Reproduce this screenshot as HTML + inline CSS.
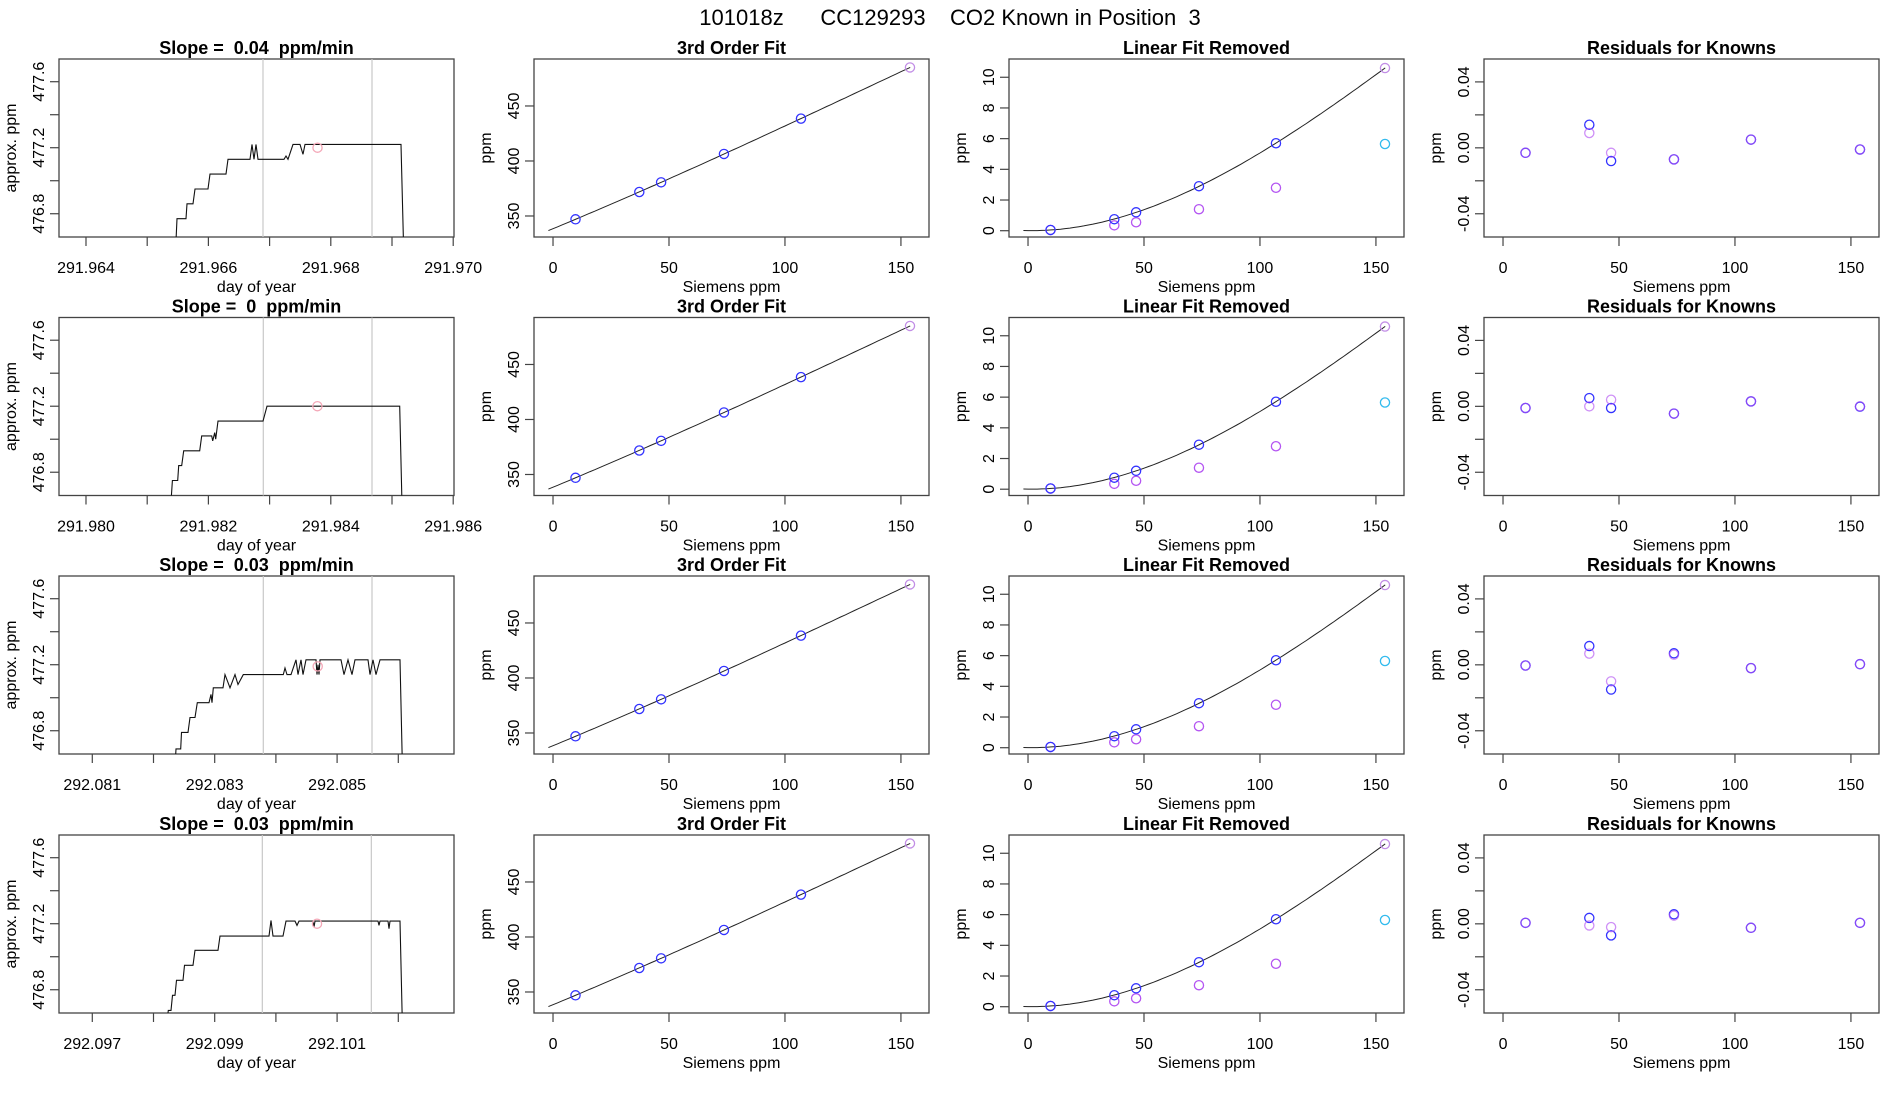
<!DOCTYPE html>
<html><head><meta charset="utf-8">
<style>
html,body{margin:0;padding:0;background:#fff;}
svg{display:block;font-family:"Liberation Sans",Arial,sans-serif;}
text{white-space:pre;}
</style></head>
<body>
<svg id="chart" width="1900" height="1100" viewBox="0 0 1900 1100" xmlns="http://www.w3.org/2000/svg">
<rect width="1900" height="1100" fill="#fff"/>
<text x="950" y="25" text-anchor="middle" font-size="22" xml:space="preserve">101018z      CC129293    CO2 Known in Position  3</text>
</svg>
<script>
// ---------- data ----------
const rowSlopes = ["0.04", "0", "0.03", "0.03"];
const rowTickStart = [291.964, 291.980, 292.081, 292.097];
const rowXmin = [291.963559, 291.979559, 292.080456, 292.096456];
const rowGrayLines = [[291.966892, 291.968673],[291.982897, 291.984673],[292.083794, 292.085570],[292.099778, 292.101559]];
const rowCircle = [[291.967783, 477.20],[291.983781, 477.20],[292.084683, 477.19],[292.100672, 477.20]];

const doy1 = [291.96356,291.965454,291.965487,291.965634,291.965650,291.965748,291.965781,291.965993,291.966026,291.966288,291.966320,291.966680,291.966712,291.966745,291.966778,291.966810,291.967235,291.967268,291.967301,291.967382,291.967497,291.967546,291.967578,291.969147,291.969196];
const ppm1 = [476.5,476.5,476.77,476.77,476.86,476.86,476.95,476.95,477.04,477.04,477.13,477.13,477.22,477.13,477.22,477.13,477.13,477.15,477.13,477.22,477.22,477.16,477.22,477.22,476.5];
const doy2 = [291.979554,291.981368,291.981412,291.981498,291.981515,291.981564,291.981596,291.981858,291.981891,291.982054,291.982070,291.982103,291.982119,291.982157,291.982892,291.982958,291.985126,291.985170];
const ppm2 = [476.5,476.5,476.75,476.75,476.84,476.84,476.93,476.93,477.02,477.02,476.99,477.04,477.0,477.11,477.11,477.20,477.20,476.5];
const doy3 = [292.080456,292.082340,292.082368,292.082444,292.082458,292.082564,292.082596,292.082678,292.082716,292.082907,292.082940,292.082956,292.082977,292.083136,292.083168,292.083250,292.083332,292.083381,292.083467,292.084121,292.084149,292.084181,292.084247,292.084328,292.084361,292.084410,292.084443,292.084492,292.084655,292.084672,292.084688,292.084704,292.084721,292.085064,292.085113,292.085178,292.085243,292.085292,292.085505,292.085538,292.085587,292.085636,292.085701,292.086028,292.086072];
const ppm3 = [476.5,476.5,476.69,476.69,476.79,476.79,476.88,476.88,476.97,476.97,477.02,476.97,477.06,477.06,477.14,477.06,477.14,477.08,477.14,477.14,477.18,477.14,477.14,477.23,477.14,477.23,477.14,477.23,477.23,477.14,477.2,477.14,477.23,477.23,477.14,477.23,477.14,477.23,477.23,477.14,477.23,477.14,477.23,477.23,476.5];
const doy4 = [292.096456,292.098188,292.098242,292.098286,292.098310,292.098351,292.098376,292.098482,292.098507,292.098645,292.098678,292.099054,292.099087,292.099887,292.099920,292.099953,292.100116,292.100165,292.100312,292.100345,292.100378,292.100606,292.100623,292.100639,292.101668,292.101685,292.101701,292.101832,292.101848,292.101864,292.102028,292.102072];
const ppm4 = [476.5,476.5,476.675,476.675,476.766,476.766,476.857,476.857,476.948,476.948,477.039,477.039,477.125,477.125,477.22,477.125,477.125,477.216,477.216,477.19,477.216,477.216,477.18,477.216,477.216,477.19,477.216,477.216,477.17,477.216,477.216,476.5];
const rowDoy = [doy1, doy2, doy3, doy4];
const rowPpm = [ppm1, ppm2, ppm3, ppm4];

const siemens = [9.7, 37.2, 46.6, 73.7, 106.9, 153.9];
const knownPpm = [347, 371.8, 380.6, 406.4, 438.5, 485];
const linRemBlue = [0.05, 0.75, 1.2, 2.9, 5.7, 10.6];
const linRemPurple = [0.05, 0.35, 0.55, 1.4, 2.8, 10.6];
const linRemCyan = [5.65];
const residBlue = [[-0.003,0.014,-0.008,-0.007,0.005,-0.001],[-0.001,0.005,-0.001,-0.0044,0.003,-0.0002],[-0.0004,0.0114,-0.015,0.007,-0.002,0.0004],[0.0006,0.0036,-0.007,0.0058,-0.0024,0.0006]];
const residPurple = [[-0.003,0.009,-0.003,-0.007,0.005,-0.001],[-0.001,0.000,0.004,-0.0044,0.003,0],[-0.0004,0.0068,-0.010,0.0062,-0.002,0.0004],[0.0006,-0.001,-0.002,0.005,-0.0024,0.0006]];

const ppmTicks = [476.8, 477.0, 477.2, 477.4, 477.6];
const ppmTickLabels = ["476.8", "", "477.2", "", "477.6"];
const siemensTicks = [0, 50, 100, 150];
const fitTicks = [350, 400, 450];
const linTicks = [0, 2, 4, 6, 8, 10];
const residTicks = [-0.04, -0.02, 0, 0.02, 0.04];
const residTickLabels = ["-0.04", "", "0.00", "", "0.04"];

// ---------- helpers ----------
const NS = "http://www.w3.org/2000/svg";
const svg = document.getElementById("chart");
function el(tag, attrs, parent, text) {
  const e = document.createElementNS(NS, tag);
  for (const k in attrs) e.setAttribute(k, attrs[k]);
  if (text !== undefined) e.textContent = text;
  (parent || svg).appendChild(e);
  return e;
}
function scale(d0, d1, r0, r1) { return v => r0 + (v - d0) / (d1 - d0) * (r1 - r0); }
function cubicFit(xs, ys) {
  const n = 4, A = [], b = [];
  for (let i = 0; i < n; i++) { A.push([0,0,0,0]); b.push(0); }
  xs.forEach((x, k) => {
    for (let i = 0; i < n; i++) { b[i] += ys[k] * Math.pow(x, i); for (let j = 0; j < n; j++) A[i][j] += Math.pow(x, i + j); }
  });
  for (let i = 0; i < n; i++) {
    let p = i; for (let r = i + 1; r < n; r++) if (Math.abs(A[r][i]) > Math.abs(A[p][i])) p = r;
    [A[i], A[p]] = [A[p], A[i]]; [b[i], b[p]] = [b[p], b[i]];
    for (let r = 0; r < n; r++) if (r !== i) { const f = A[r][i] / A[i][i]; for (let c = 0; c < n; c++) A[r][c] -= f * A[i][c]; b[r] -= f * b[i]; }
  }
  const c = b.map((v, i) => v / A[i][i]);
  return x => c[0] + c[1]*x + c[2]*x*x + c[3]*x*x*x;
}

const W = 395, H = 178;
const colLeft = [59, 534, 1009, 1484];
const rowTop = [59, 317.5, 576, 835];
const BLUE = "#3333ff", PURPLE = "#b455f2", CYAN = "#33bbee", LAV = "#c28ee6";

function frame(g, x0, y0, title, xlab, ylab, key) {
  const t = el("text", {x: x0 + W/2, y: y0 - 5, "text-anchor": "middle", "font-size": 18, "font-weight": "bold"}, g, title);
  t.setAttributeNS("http://www.w3.org/XML/1998/namespace", "xml:space", "preserve");
  
  
  const r = el("rect", {x: x0, y: y0, width: W, height: H, fill: "none", stroke: "#444", "stroke-width": 1.3}, g);
  
  
  const xl = el("text", {x: x0 + W/2, y: y0 + H + 55, "text-anchor": "middle", "font-size": 16}, g, xlab);
  
  
  const yl = el("text", {x: 0, y: 0, "text-anchor": "middle", "font-size": 16, transform: `translate(${x0 - 43},${y0 + H/2}) rotate(-90)`}, g, ylab);
  
  
}
function xAxis(g, x0, y0, ticks, labels, sx, key) {
  const ax = el("g", {}, g);
  
  
  ticks.forEach((v, i) => {
    const px = sx(v);
    el("line", {x1: px, x2: px, y1: y0 + H, y2: y0 + H + 9, stroke: "#444", "stroke-width": 1.2}, ax);
    if (labels[i]) {
      const t = el("text", {x: px, y: y0 + H + 36, "text-anchor": "middle", "font-size": 16}, ax, labels[i]);
      
      
    }
  });
}
function yAxis(g, x0, y0, ticks, labels, sy, key) {
  const ax = el("g", {}, g);
  
  
  ticks.forEach((v, i) => {
    const py = sy(v);
    el("line", {x1: x0 - 9, x2: x0, y1: py, y2: py, stroke: "#444", "stroke-width": 1.2}, ax);
    if (labels[i]) {
      const t = el("text", {x: 0, y: 0, "text-anchor": "middle", "font-size": 16, transform: `translate(${x0 - 15},${py}) rotate(-90)`}, ax, labels[i]);
      
      
    }
  });
}
function circle(g, cx, cy, color, name) {
  const c = el("circle", {cx: cx, cy: cy, r: 4.6, fill: "none", stroke: color, "stroke-width": 1.3}, g);
  
  
}

for (let r = 0; r < 4; r++) {
  const y0 = rowTop[r];
  // ---- column 1: time series ----
  {
    const x0 = colLeft[0];
    const key = `row${r+1}-slope`;
    const g = el("g", {}, svg);
    
    
    const xmin = rowXmin[r];
    const sx = scale(xmin, xmin + 0.006454, x0, x0 + W);
    const sy = scale(476.659, 477.7376, y0 + H, y0);
    frame(g, x0, y0, `Slope =  ${rowSlopes[r]}  ppm/min`, "day of year", "approx. ppm", key);
    const ticks = [], labels = [];
    for (let i = 0; i < 7; i++) {
      const v = rowTickStart[r] + i * 0.001;
      if (sx(v) > x0 + W + 1) break;
      ticks.push(v); labels.push(i % 2 === 0 ? v.toFixed(3) : "");
    }
    xAxis(g, x0, y0, ticks, labels, sx, key);
    yAxis(g, x0, y0, ppmTicks, ppmTickLabels, sy, key);
    rowGrayLines[r].forEach(v => {
      const l = el("line", {x1: sx(v), x2: sx(v), y1: y0, y2: y0 + H, stroke: "#c8c8c8", "stroke-width": 1.2}, g);
      
      
    });
    const cid = "clip" + r;
    const cp = el("clipPath", {id: cid}, g);
    el("rect", {x: x0, y: y0, width: W, height: H}, cp);
    const pts = rowDoy[r].map((d, i) => sx(d).toFixed(1) + "," + sy(rowPpm[r][i]).toFixed(1)).join(" ");
    const pl = el("polyline", {points: pts, fill: "none", stroke: "#111", "stroke-width": 1.1, "clip-path": `url(#${cid})`}, g);
    
    
    circle(g, sx(rowCircle[r][0]), sy(rowCircle[r][1]), "#f4a8b8", "mean-point");
  }
  const sxS = c => scale(-8.2, 162.1, colLeft[c], colLeft[c] + W);
  const sTickLabels = siemensTicks.map(String);
  // ---- column 2: 3rd order fit ----
  {
    const x0 = colLeft[1], key = `row${r+1}-fit`;
    const g = el("g", {}, svg);
    
    
    const sx = sxS(1), sy = scale(330.9, 492.7, y0 + H, y0);
    frame(g, x0, y0, "3rd Order Fit", "Siemens ppm", "ppm", key);
    xAxis(g, x0, y0, siemensTicks, sTickLabels, sx, key);
    yAxis(g, x0, y0, fitTicks, fitTicks.map(String), sy, key);
    const f = cubicFit(siemens, knownPpm);
    const pts = [];
    for (let x = -2; x <= 154.01; x += 2) pts.push(sx(x).toFixed(1) + "," + sy(f(x)).toFixed(1));
    const pl = el("polyline", {points: pts.join(" "), fill: "none", stroke: "#222", "stroke-width": 1}, g);
    
    
    siemens.forEach((x, i) => circle(g, sx(x), sy(knownPpm[i]), i === siemens.length - 1 ? LAV : BLUE, 'known-point'));
  }
  // ---- column 3: linear fit removed ----
  {
    const x0 = colLeft[2], key = `row${r+1}-linear-removed`;
    const g = el("g", {}, svg);
    
    
    const sx = sxS(2), sy = scale(-0.41, 11.19, y0 + H, y0);
    frame(g, x0, y0, "Linear Fit Removed", "Siemens ppm", "ppm", key);
    xAxis(g, x0, y0, siemensTicks, sTickLabels, sx, key);
    yAxis(g, x0, y0, linTicks, linTicks.map(String), sy, key);
    const f = cubicFit(siemens, linRemBlue);
    const pts = [];
    for (let x = -2; x <= 154.01; x += 2) pts.push(sx(x).toFixed(1) + "," + sy(Math.max(0, f(x))).toFixed(1));
    const pl = el("polyline", {points: pts.join(" "), fill: "none", stroke: "#222", "stroke-width": 1}, g);
    
    
    siemens.forEach((x, i) => { if (i < siemens.length - 1) circle(g, sx(x), sy(linRemPurple[i]), PURPLE, 'purple-point'); });
    siemens.forEach((x, i) => circle(g, sx(x), sy(linRemBlue[i]), i === siemens.length - 1 ? LAV : BLUE, 'blue-point'));
    circle(g, sx(siemens[siemens.length - 1]), sy(linRemCyan[0]), CYAN, 'cyan-point');
  }
  // ---- column 4: residuals ----
  {
    const x0 = colLeft[3], key = `row${r+1}-residuals`;
    const g = el("g", {}, svg);
    
    
    const sx = sxS(3), sy = scale(-0.0541, 0.0539, y0 + H, y0);
    frame(g, x0, y0, "Residuals for Knowns", "Siemens ppm", "ppm", key);
    xAxis(g, x0, y0, siemensTicks, sTickLabels, sx, key);
    yAxis(g, x0, y0, residTicks, residTickLabels, sy, key);
    siemens.forEach((x, i) => circle(g, sx(x), sy(residBlue[r][i]), BLUE, 'blue-residual'));
    siemens.forEach((x, i) => {
      const c = el("circle", {cx: sx(x), cy: sy(residPurple[r][i]), r: 4.6, fill: "none", stroke: PURPLE, "stroke-width": 1.3, "stroke-opacity": 0.65}, g);
      
      
    });
  }
}
</script>
</body></html>
